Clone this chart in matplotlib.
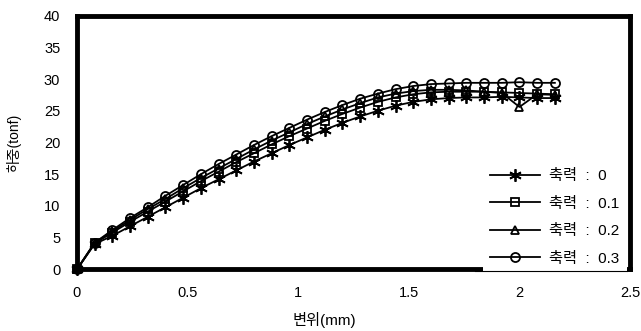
import matplotlib
matplotlib.use("Agg")
import matplotlib.pyplot as plt
from matplotlib.lines import Line2D
import numpy as np

plt.rcParams['font.family'] = ['Liberation Sans', 'Noto Sans CJK KR', 'DejaVu Sans']

x = [0.00, 0.08, 0.16, 0.24, 0.32, 0.40, 0.48, 0.56, 0.64, 0.72, 0.80, 0.88, 0.96, 1.04,
     1.12, 1.20, 1.28, 1.36, 1.44, 1.52, 1.60, 1.68, 1.76, 1.84, 1.92, 2.00, 2.08, 2.16]

load_0 = [0, 4.0, 5.3, 6.8, 8.3, 9.8, 11.3, 12.8, 14.2, 15.6, 17.0, 18.3, 19.6, 20.8,
          22.0, 23.1, 24.1, 25.0, 25.8, 26.4, 26.8, 27.0, 27.1, 27.1, 27.2, 27.1, 27.0, 27.0]
load_01 = [0, 4.1, 5.8, 7.5, 9.1, 10.7, 12.3, 13.9, 15.4, 16.9, 18.3, 19.7, 21.0, 22.2,
           23.4, 24.5, 25.5, 26.4, 27.1, 27.6, 27.9, 28.0, 28.0, 28.0, 27.9, 27.8, 27.7, 27.6]
load_02 = [0, 4.2, 6.0, 7.8, 9.5, 11.1, 12.8, 14.4, 15.9, 17.4, 18.9, 20.3, 21.6, 22.9,
           24.1, 25.2, 26.2, 27.1, 27.7, 28.1, 28.3, 28.3, 28.2, 28.0, 27.8, 25.6, 27.6, 27.5]
load_03 = [0, 4.2, 6.2, 8.1, 9.8, 11.6, 13.3, 15.0, 16.6, 18.1, 19.6, 21.0, 22.3, 23.6,
           24.8, 25.9, 26.9, 27.7, 28.4, 28.9, 29.2, 29.3, 29.4, 29.4, 29.4, 29.5, 29.4, 29.4]

labels = ['축력  :  0', '축력  :  0.1', '축력  :  0.2', '축력  :  0.3']
x_ticks = [0, 0.5, 1, 1.5, 2, 2.5]
x_ticklabels = ['0', '0.5', '1', '1.5', '2', '2.5']
y_ticks = [0, 5, 10, 15, 20, 25, 30, 35, 40]

fig = plt.figure(figsize=(6.41, 3.31), dpi=100)
ax = fig.add_axes([0.120, 0.186, 0.863, 0.767])

series = [load_0, load_01, load_02, load_03]
markers = [(6, 2, 0), 's', '^', 'o']
msizes = [9, 6, 6, 6.5]
for ys, m, ms, lab in zip(series, markers, msizes, labels):
    ax.plot(x, ys, color='black', lw=1.3, marker=m, markersize=ms,
            markerfacecolor='none', markeredgecolor='black', markeredgewidth=1.3,
            label=lab, clip_on=False)

ax.set_xlim(0, 2.5)
ax.set_ylim(0, 40)
ax.set_xticks(x_ticks)
ax.set_xticklabels(x_ticklabels)
ax.set_yticks(y_ticks)
ax.tick_params(length=0, labelsize=10.5)
ax.tick_params(axis='x', pad=12)
ax.tick_params(axis='y', pad=12)
for s in ax.spines.values():
    s.set_linewidth(3.5)
    s.set_color('black')

ax.set_xlabel('변위(mm)', fontsize=11)
ax.xaxis.set_label_coords(0.448, -0.168)
ax.set_ylabel('하중(tonf)', fontsize=10, labelpad=16)

leg = ax.legend(loc='lower right', bbox_to_anchor=(0.9935, -0.012), frameon=True,
                fancybox=False, framealpha=1, facecolor='white', edgecolor='none',
                fontsize=11, handlelength=3.3, labelspacing=0.88, borderpad=0.45,
                handletextpad=0.6, borderaxespad=0)
leg.set_zorder(5)

fig.add_artist(Line2D([0.741, 0.978], [0.181, 0.181], color='black', lw=0.8,
                      transform=fig.transFigure))

fig.savefig('out.png', dpi=100)
